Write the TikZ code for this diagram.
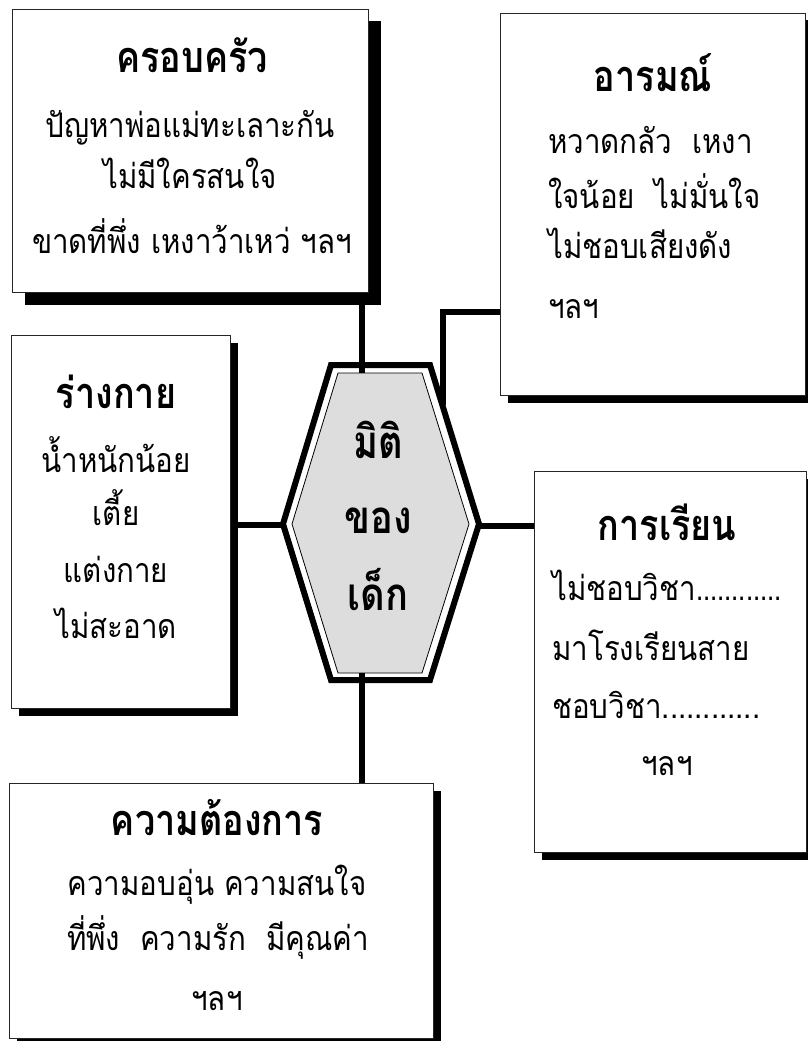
\documentclass[tikz,border=0pt]{standalone}
\usepackage{fontspec}
\usepackage{graphicx}
\newfontfamily\thai[Script=Thai]{Loma}
\usetikzlibrary{shadows,calc}
\definecolor{hexgray}{RGB}{221,221,221}
\newcommand{\tallA}[1]{\scalebox{1}[1.2]{#1}}
\newcommand{\tallB}[1]{\scalebox{1}[1.15]{#1}}
\begin{document}
\begin{tikzpicture}[x=1pt,y=-1pt,
  box/.style={draw=black!85, line width=1pt, fill=white, rectangle, inner sep=0pt, anchor=north west},
  bigshadow/.style={drop shadow={shadow xshift=12pt, shadow yshift=-12pt, fill=black, opacity=1}},
  smallshadow/.style={drop shadow={shadow xshift=7pt, shadow yshift=-7pt, fill=black, opacity=1}},
  conn/.style={line width=5.5pt},
  ttl/.style={font=\thai\bfseries\fontsize{36}{40}\selectfont, inner sep=0pt},
  ctr/.style={font=\thai\bfseries\fontsize{38}{42}\selectfont, inner sep=0pt},
  txt/.style={font=\thai\fontsize{29.5}{34}\selectfont, inner sep=0pt}]
\useasboundingbox (0,0) rectangle (808,1041);
% boxes
\node[box, bigshadow, minimum width=356pt, minimum height=283pt] (fam) at (12,9) {};
\node[box, smallshadow, minimum width=305pt, minimum height=382pt] (emo) at (500,13) {};
\node[box, smallshadow, minimum width=219pt, minimum height=373pt] (body) at (11,335) {};
\node[box, smallshadow, minimum width=272pt, minimum height=381pt] (learn) at (534,471) {};
\node[box, smallshadow, minimum width=424pt, minimum height=255pt] (need) at (9,783) {};
% hexagon
\draw[line width=6pt, fill=white, line join=miter]
  (331,365) -- (430,365) -- (479,524) -- (430,680) -- (331,680) -- (283,524) -- cycle;
\draw[line width=0.8pt, fill=hexgray, line join=miter]
  (338,373) -- (422,373) -- (469,524) -- (422,673) -- (338,673) -- (292,524) -- cycle;
\coordinate (hexT) at (362,373);
\coordinate (hexNE) at (443,405);
\coordinate (hexW) at (285,525);
\coordinate (hexE) at (478,526);
\coordinate (hexB) at (362,673);
% connectors
\draw[conn] (fam.south -| hexT) -- (hexT);
\draw[conn] ($(emo.north west)+(0,299)$) -| (hexNE);
\draw[conn] (body.east |- hexW) -- (hexW);
\draw[conn] (hexE) -- (learn.west |- hexE);
\draw[conn] (hexB) -- (need.north -| hexB);
% centre text
\node[ctr, anchor=base] (c1) at (378,458) {\tallA{มิติ}};
\node[ctr, anchor=base] (c2) at (378,533) {\tallA{ของ}};
\node[ctr, anchor=base] (c3) at (378,610) {\tallA{เด็ก}};
% family
\node[ttl, anchor=base] (famT) at (192,72) {\tallA{ครอบครัว}};
\node[txt, anchor=base] (fam1) at (190,137) {\tallB{ปัญหาพ่อแม่ทะเลาะกัน}};
\node[txt, anchor=base] (fam2) at (190,188) {\tallB{ไม่มีใครสนใจ}};
\node[txt, anchor=base] (fam3) at (192,253) {\tallB{ขาดที่พึ่ง เหงาว้าเหว่ ฯลฯ}};
% emotion
\node[ttl, anchor=base] (emoT) at (653,92) {\tallA{อารมณ์}};
\node[txt, anchor=base west] (emo1) at (548,153) {\tallB{หวาดกลัว\ \ เหงา}};
\node[txt, anchor=base west] (emo2) at (548,208) {\tallB{ใจน้อย\ \ ไม่มั่นใจ}};
\node[txt, anchor=base west] (emo3) at (548,258) {\tallB{ไม่ชอบเสียงดัง}};
\node[txt, anchor=base west] (emo4) at (548,318) {\tallB{ฯลฯ}};
% body
\node[ttl, anchor=base] (bodyT) at (116,408) {\tallA{ร่างกาย}};
\node[txt, anchor=base] (body1) at (116,472) {\tallB{น้ำหนักน้อย}};
\node[txt, anchor=base] (body2) at (116,525) {\tallB{เตี้ย}};
\node[txt, anchor=base] (body3) at (116,582) {\tallB{แต่งกาย}};
\node[txt, anchor=base] (body4) at (116,638) {\tallB{ไม่สะอาด}};
% learning
\node[ttl, anchor=base] (learnT) at (667,540) {\tallA{การเรียน}};
\node[txt, anchor=base west] (learn1) at (552,600) {\tallB{ไม่ชอบวิชา\scalebox{0.87}[1]{............}}};
\node[txt, anchor=base west] (learn2) at (552,660) {\tallB{มาโรงเรียนสาย}};
\node[txt, anchor=base west] (learn3) at (552,718) {\tallB{ชอบวิชา............}};
\node[txt, anchor=base] (learn4) at (667,775) {\tallB{ฯลฯ}};
% needs
\node[ttl, anchor=base] (needT) at (217,835) {\tallA{ความต้องการ}};
\node[txt, anchor=base] (need1) at (217,895) {\tallB{ความอบอุ่น ความสนใจ}};
\node[txt, anchor=base] (need2) at (218,950) {\tallB{ที่พึ่ง\ \ ความรัก\ \ มีคุณค่า}};
\node[txt, anchor=base] (need3) at (217,1010) {\tallB{ฯลฯ}};
\end{tikzpicture}
\end{document}
